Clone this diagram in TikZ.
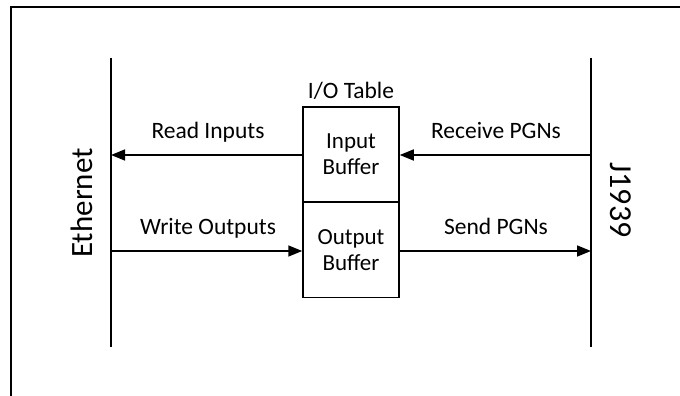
\documentclass[tikz,border=0pt]{standalone}
\usepackage{fontspec}
\setmainfont{Carlito}
\usetikzlibrary{arrows.meta}
\begin{document}
\begin{tikzpicture}[x=1pt,y=-1pt,
  lbl/.style={font=\fontsize{23.5}{26}\selectfont, inner sep=0pt},
  bus/.style={line width=1.5pt},
  conn/.style={line width=1.5pt,-{Triangle[length=14pt,width=11pt]}},
  buf/.style={draw,line width=1.5pt,minimum width=96pt,minimum height=95pt,inner sep=0pt,align=center,font=\fontsize{23}{26}\selectfont}]
\useasboundingbox (0,0) rectangle (680,396);
\draw[line width=2pt] (11,396) -- (11,7) -- (680,7);
\coordinate (eT) at (111,58);
\coordinate (eB) at (111,347);
\coordinate (jT) at (591,58);
\coordinate (jB) at (591,347);
\draw[bus] (eT) -- (eB);
\draw[bus] (jT) -- (jB);
\node[buf] (ib) at (351,154.5) {Input\\Buffer};
\node[buf] (ob) at (351,250) {Output\\Buffer};
\node[lbl,anchor=base] (tt) at (351,98) {I/O Table};
\coordinate (eR) at (111,155);
\coordinate (jR) at (591,155);
\coordinate (eW) at (111,251);
\coordinate (jW) at (591,251);
\draw[conn] (ib.west |- eR) -- (eR);
\draw[conn] (jR) -- (ib.east |- jR);
\draw[conn] (eW) -- (ob.west |- eW);
\draw[conn] (ob.east |- jW) -- (jW);
\node[lbl,anchor=base] (ri) at (208,138) {Read Inputs};
\node[lbl,anchor=base] (rp) at (496,138) {Receive PGNs};
\node[lbl,anchor=base] (wo) at (208,234) {Write Outputs};
\node[lbl,anchor=base] (sp) at (496,234) {Send PGNs};
\node[font=\fontsize{31}{34}\selectfont,rotate=90,inner sep=0pt] (eth) at (82,203) {Ethernet};
\node[font=\fontsize{32}{34}\selectfont,rotate=-90,inner sep=0pt] (j) at (621,200) {J1939};
\end{tikzpicture}
\end{document}
